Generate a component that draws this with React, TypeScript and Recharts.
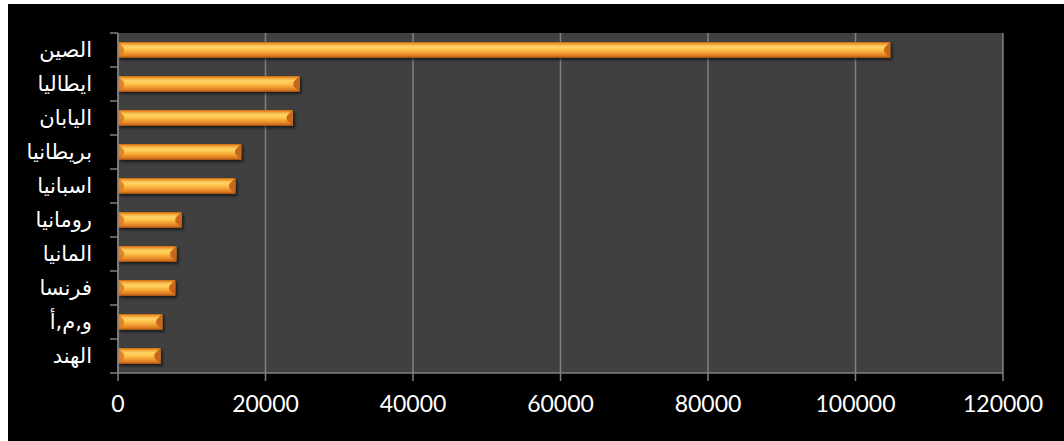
import React from "react";
import { BarChart, Bar, XAxis, YAxis, CartesianGrid } from "recharts";

const categories = ["الصين", "ايطاليا", "اليابان", "بريطانيا", "اسبانيا", "رومانيا", "المانيا", "فرنسا", "و,م,أ", "الهند"];
const values = [104700, 24600, 23700, 16700, 15900, 8600, 7900, 7750, 6000, 5750];
const xTicks = [0, 20000, 40000, 60000, 80000, 100000, 120000];

const data = categories.map((name, i) => ({ name, value: values[i] }));

const W = 1056;
const H = 437;
const X_H = 68;
const M = { top: 29, right: 61, bottom: 0, left: 0 };
const Y_W = 110;
const BAND = (H - M.top - M.bottom - X_H) / categories.length;

const YTick = (props: any) => {
  const { x, y, payload, index } = props;
  const last = index === categories.length - 1;
  return (
    <g>
      <line x1={x - 8} x2={x} y1={y - BAND / 2} y2={y - BAND / 2} stroke="#808080" strokeWidth={1.5} />
      {last && <line x1={x - 8} x2={x} y1={y + BAND / 2} y2={y + BAND / 2} stroke="#808080" strokeWidth={1.5} />}
      <text x={x - 26} y={y} dy="0.35em" textAnchor="end" fill="#ffffff" fontSize={21} fontFamily="'DejaVu Sans', Arial, sans-serif">
        {payload.value}
      </text>
    </g>
  );
};

const BarShape = (props: any) => {
  const { x, y, width, height } = props;
  if (!width || width <= 0) return null;
  const cap = Math.min(6, width / 2);
  return (
    <g filter="url(#barShadow)">
      <rect x={x} y={y} width={width} height={height} fill="url(#barGrad)" />
      <polygon
        points={`${x + width - cap},${y + cap} ${x + width},${y} ${x + width},${y + height} ${x + width - cap},${y + height - cap}`}
        fill="#c8661a"
      />
      <polygon
        points={`${x},${y} ${x + cap},${y + cap} ${x + cap},${y + height - cap} ${x},${y + height}`}
        fill="#d9761f"
        opacity={0.8}
      />
    </g>
  );
};

export default function App() {
  return (
    <div style={{ position: "absolute", left: 8, top: 4, width: W, height: H, background: "#000000" }}>
      <BarChart width={W} height={H} data={data} layout="vertical" margin={M} barCategoryGap={0}>
        <defs>
          <linearGradient id="barGrad" x1="0" y1="0" x2="0" y2="1">
            <stop offset="0%" stopColor="#c8661a" />
            <stop offset="12%" stopColor="#f0a030" />
            <stop offset="30%" stopColor="#ffd468" />
            <stop offset="45%" stopColor="#ffc850" />
            <stop offset="70%" stopColor="#f29a30" />
            <stop offset="88%" stopColor="#d87820" />
            <stop offset="100%" stopColor="#9a4a10" />
          </linearGradient>
          <filter id="barShadow" x="-5%" y="-30%" width="115%" height="180%">
            <feDropShadow dx="2" dy="2" stdDeviation="1.5" floodColor="#000000" floodOpacity="0.6" />
          </filter>
        </defs>
        <CartesianGrid horizontal={false} vertical={true} fill="#404040" stroke="#808080" strokeWidth={1.5} />
        <XAxis
          type="number"
          domain={[0, 120000]}
          ticks={xTicks}
          height={X_H}
          tickSize={8}
          tickMargin={15}
          stroke="#808080"
          strokeWidth={1.5}
          tick={{ fill: "#ffffff", fontSize: 23, fontFamily: "Lato, 'Open Sans', sans-serif" }}
          interval={0}
        />
        <YAxis
          type="category"
          dataKey="name"
          width={Y_W}
          tickSize={0}
          tickMargin={0}
          stroke="#808080"
          strokeWidth={1.5}
          tick={<YTick />}
          interval={0}
        />
        <Bar dataKey="value" barSize={16} shape={<BarShape />} isAnimationActive={false} />
      </BarChart>
    </div>
  );
}
